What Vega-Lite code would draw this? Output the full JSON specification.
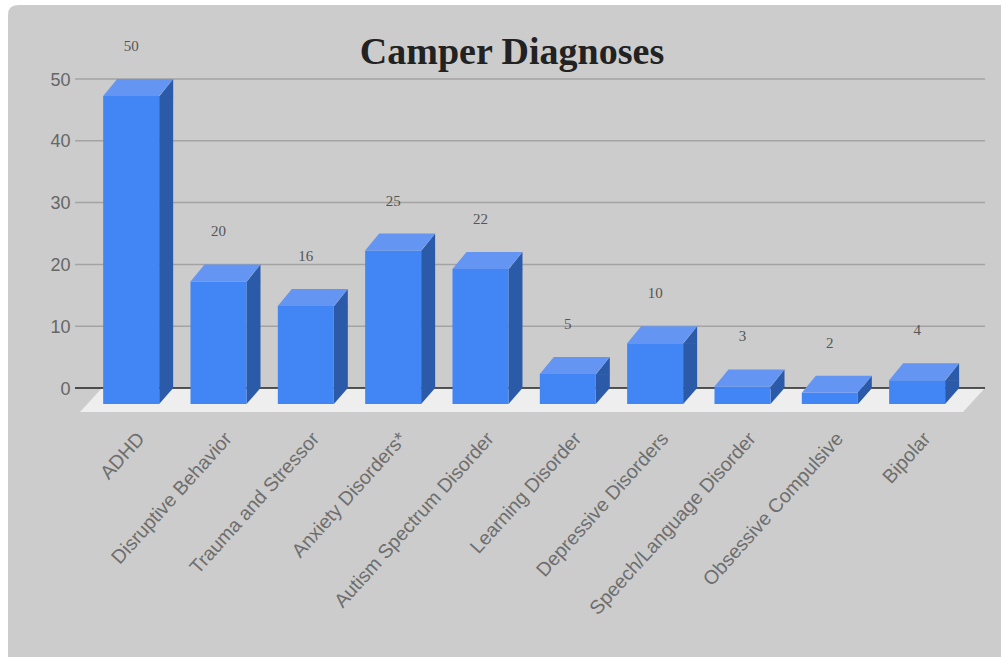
{
"$schema":"https://vega.github.io/schema/vega-lite/v6.json",
"width":910,"height":309,
"autosize":{"type":"none"},
"padding":{"left":75,"top":79,"right":16,"bottom":269},
"background":"#cccccc",
"title":{"text":"Camper Diagnoses","font":"Liberation Serif","fontWeight":"bold","fontSize":38,"color":"#222222","anchor":"middle","frame":"group","dx":-18,"offset":-72},
"config":{"view":{"stroke":null}},
"data":{"values":[
{"diagnosis":"ADHD","value":50},
{"diagnosis":"Disruptive Behavior","value":20},
{"diagnosis":"Trauma and Stressor","value":16},
{"diagnosis":"Anxiety Disorders*","value":25},
{"diagnosis":"Autism Spectrum Disorder","value":22},
{"diagnosis":"Learning Disorder","value":5},
{"diagnosis":"Depressive Disorders","value":10},
{"diagnosis":"Speech/Language Disorder","value":3},
{"diagnosis":"Obsessive Compulsive","value":2},
{"diagnosis":"Bipolar","value":4}
]},
"encoding":{
"x":{"field":"diagnosis","type":"nominal","sort":["ADHD","Disruptive Behavior","Trauma and Stressor","Anxiety Disorders*","Autism Spectrum Disorder","Learning Disorder","Depressive Disorders","Speech/Language Disorder","Obsessive Compulsive","Bipolar"],"scale":{"range":[12.5,885.8],"paddingInner":0,"paddingOuter":0},
"axis":{"title":null,"domain":false,"ticks":false,"labelAngle":-48,"labelAlign":"right","labelBaseline":"middle","labelPadding":47,"labelOffset":10,"labelFont":"Liberation Sans","labelFontSize":19.5,"labelColor":"#6e6e6e","labelOverlap":false,"labelBound":false,"labelFlush":false,"labelLimit":400,"grid":false}},
"y":{"field":"value","type":"quantitative","scale":{"domain":[0,50],"nice":false},
"axis":{"title":null,"values":[0,10,20,30,40,50],"domain":false,"ticks":false,"labelFont":"Liberation Sans","labelFontSize":18,"labelColor":"#666666","labelPadding":5,"labelOffset":1,"grid":false}}
},
"layer":[
{"data":{"values":[{"value":0}]},
 "mark":{"type":"point","filled":true,"size":4,"opacity":1,"color":"#ffffff","strokeWidth":0,"shape":"M-530,-388L471,-388L471,-383L-512,-383Q-522,-383,-522,-373L-522,269L-530,269Z"},
 "encoding":{"x":{"value":455},"y":{"field":"value","type":"quantitative"}}},
{"data":{"values":[{"value":10},{"value":20},{"value":30},{"value":40},{"value":50}]},
 "mark":{"type":"rule","color":"#a3a3a3","strokeWidth":1.5},
 "encoding":{"x":{"value":0},"x2":{"value":910},"y":{"field":"value","type":"quantitative"}}},
{"data":{"values":[{"value":0}]},
 "mark":{"type":"point","filled":true,"size":4,"opacity":1,"color":"#eeeeee","strokeWidth":0,"shape":"M-450,24L433,24L455,0L-428,0Z"},
 "encoding":{"x":{"value":455},"y":{"field":"value","type":"quantitative"}}},
{"data":{"values":[{"value":0}]},
 "mark":{"type":"rule","color":"#222222","strokeWidth":1.5},
 "encoding":{"x":{"value":0},"x2":{"value":910},"y":{"field":"value","type":"quantitative"}}},
{"transform":[{"filter":"datum.value >= 3"}],
 "mark":{"type":"bar","width":14,"xOffset":35,"yOffset":17,"color":"#2a5aa8"},
 "encoding":{"y2":{"datum":0}}},
{"transform":[{"filter":"datum.value >= 3"}],
 "mark":{"type":"point","filled":true,"size":4,"opacity":1,"color":"#2a5aa8","strokeWidth":0,"shape":"M28,17.5L42,0L42,17.5Z"}},
{"mark":{"type":"point","filled":true,"size":4,"opacity":1,"color":"#2a5aa8","strokeWidth":0,"shape":"M28,0L42,0L28,16Z"},
 "encoding":{"y":{"datum":0}}},
{"transform":[{"filter":"datum.value < 3"}],
 "mark":{"type":"point","filled":true,"size":4,"opacity":1,"color":"#2a5aa8","strokeWidth":0,"shape":"M28,17L42,0L42,12.4L28,28.4Z"}},
{"mark":{"type":"bar","width":56,"yOffset":17,"y2Offset":16,"color":"#4285f4"},
 "encoding":{"y2":{"datum":0}}},
{"mark":{"type":"point","filled":true,"size":4,"opacity":1,"color":"#6495f2","strokeWidth":0,"shape":"M-28,17L28,17L42,0L-14,0Z"}},
{"mark":{"type":"text","font":"Liberation Serif","fontSize":15,"color":"#555555","yOffset":-33},
 "encoding":{"text":{"field":"value","type":"quantitative"}}}
]
}
